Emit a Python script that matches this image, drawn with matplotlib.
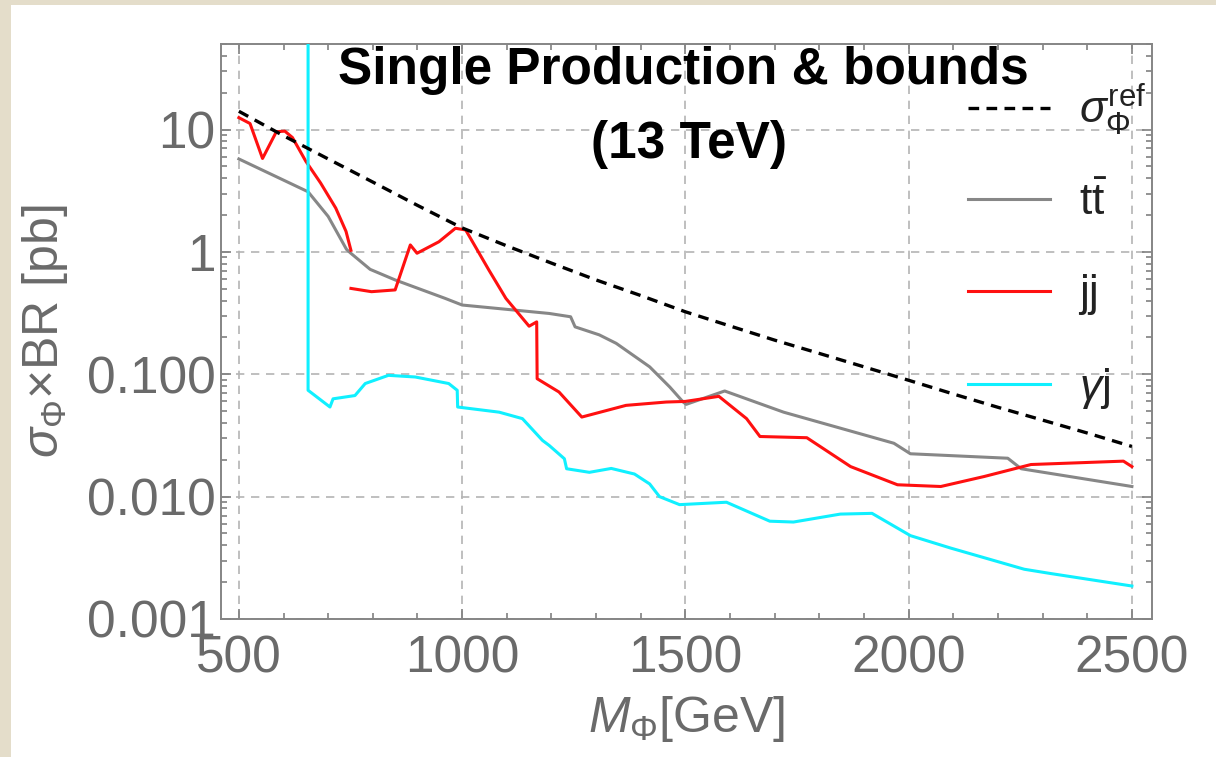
import matplotlib
matplotlib.use("Agg")
import matplotlib.pyplot as plt
from matplotlib.patches import Rectangle
from matplotlib.legend import Legend
from matplotlib.ticker import FixedLocator, FixedFormatter, MultipleLocator, LogLocator, NullFormatter

plt.rcParams['font.family'] = ['Liberation Sans', 'DejaVu Sans']
plt.rcParams['mathtext.fontset'] = 'custom'
plt.rcParams['mathtext.rm'] = 'Liberation Sans'
plt.rcParams['mathtext.it'] = 'Liberation Sans:italic'
plt.rcParams['mathtext.bf'] = 'Liberation Sans:bold'

# ---------------- data ----------------
ref_mass = [500, 600, 700, 800, 900, 1000, 1100, 1200, 1300, 1400, 1500,
            1600, 1700, 1800, 1900, 2000, 2100, 2200, 2300, 2400, 2500]
ref_xsec = [14.1, 8.9, 5.75, 3.72, 2.40, 1.57, 1.12, 0.81, 0.59, 0.44, 0.324,
            0.248, 0.19, 0.148, 0.115, 0.0893, 0.069, 0.0537, 0.0422, 0.0331, 0.0257]

tt_mass = [500, 655, 700, 741, 750, 794, 850, 962, 1000, 1195, 1243, 1253, 1307,
           1345, 1420, 1465, 1495, 1502, 1588, 1720, 1967, 2004, 2222, 2252, 2500]
tt_xsec = [5.75, 3.1, 1.95, 1.05, 0.98, 0.72, 0.59, 0.417, 0.368, 0.314, 0.295, 0.244, 0.21,
           0.179, 0.115, 0.0787, 0.0593, 0.0568, 0.073, 0.049, 0.0273, 0.0224, 0.0206, 0.0169, 0.0121]

jj_mass_a = [500, 525, 553, 584, 603, 620, 650, 683, 717, 740, 751]
jj_xsec_a = [12.5, 11.2, 5.8, 9.6, 9.7, 8.6, 5.5, 3.66, 2.28, 1.47, 1.03]

jj_mass_b = [751, 797, 850, 884, 899, 948, 985, 1008, 1060, 1098, 1150, 1167, 1168,
             1217, 1268, 1367, 1457, 1500, 1575, 1637, 1667, 1772, 1870, 1975, 2072,
             2169, 2274, 2481, 2500]
jj_xsec_b = [0.503, 0.473, 0.489, 1.14, 0.975, 1.21, 1.56, 1.51, 0.71, 0.417, 0.247, 0.268, 0.092,
             0.0716, 0.0447, 0.0557, 0.0593, 0.060, 0.066, 0.0434, 0.031, 0.0303, 0.0176, 0.0125, 0.0121,
             0.0146, 0.0183, 0.0195, 0.0176]

gj_mass = [655, 655, 704, 711, 760, 783, 835, 895, 970, 989, 990, 1083, 1135, 1180, 1195,
           1229, 1234, 1285, 1334, 1386, 1420, 1442, 1487, 1592, 1689, 1742, 1847, 1918,
           2004, 2094, 2259, 2319, 2500]
gj_xsec = [200, 0.074, 0.054, 0.063, 0.067, 0.084, 0.098, 0.095, 0.084, 0.074, 0.054, 0.049,
           0.0434, 0.0288, 0.0262, 0.0204, 0.0169, 0.0158, 0.017, 0.0153, 0.0127, 0.01, 0.0086,
           0.0090, 0.0063, 0.0062, 0.0072, 0.0073, 0.0048, 0.0038, 0.00255, 0.00235, 0.00186]

x_ticks = [500, 1000, 1500, 2000, 2500]
y_ticks = [0.001, 0.01, 0.1, 1, 10]
y_tick_labels = ['0.001', '0.010', '0.100', '1', '10']
legend_labels = [r'$\sigma_{\Phi}^{\mathrm{ref}}$', r'$\mathrm{t}\bar{\mathrm{t}}$', 'jj', r'$\gamma$j']

# ---------------- figure ----------------
W, H = 1216, 757
fig = plt.figure(figsize=(W / 100, H / 100), dpi=100)
fig.patch.set_facecolor('#e4ddca')
fig.add_artist(Rectangle((11 / W, 0), 1, 1 - 5 / H, transform=fig.transFigure,
                         facecolor='white', edgecolor='none', zorder=-10))

ax = fig.add_axes([221 / W, 1 - 619 / H, (1152 - 221) / W, (619 - 44) / H])
ax.set_yscale('log')
ax.set_xlim(460, 2545)
ax.set_ylim(0.001, 50)

GRAY = '#878787'
RED = '#ff1010'
CYAN = '#10f0ff'
h_ref, = ax.plot(ref_mass, ref_xsec, color='black', lw=2.4, ls=(0, (3.2, 2.2)), zorder=5)
h_tt, = ax.plot(tt_mass, tt_xsec, color=GRAY, lw=2.2, zorder=3)
h_jj, = ax.plot(jj_mass_a, jj_xsec_a, color=RED, lw=2.2, zorder=4)
ax.plot(jj_mass_b, jj_xsec_b, color=RED, lw=2.2, zorder=4)
h_gj, = ax.plot(gj_mass, gj_xsec, color=CYAN, lw=2.2, zorder=4)

# grid
for xv in x_ticks:
    ax.axvline(xv, color='#b4b4b4', lw=1.2, ls=(0, (5, 4)), zorder=1)
for yv in y_ticks:
    ax.axhline(yv, color='#b4b4b4', lw=1.2, ls=(0, (5, 4)), zorder=1)

# ticks
ax.xaxis.set_major_locator(FixedLocator(x_ticks))
ax.xaxis.set_minor_locator(MultipleLocator(100))
ax.yaxis.set_major_locator(FixedLocator(y_ticks))
ax.yaxis.set_major_formatter(FixedFormatter(y_tick_labels))
ax.yaxis.set_minor_locator(LogLocator(base=10, subs=range(2, 10), numticks=20))
ax.yaxis.set_minor_formatter(NullFormatter())

TICKC = '#6a6a6a'
ax.tick_params(which='both', direction='in', top=True, right=True, color='#808080', width=1.2)
ax.tick_params(which='major', length=7, labelsize=37, labelcolor=TICKC)
ax.tick_params(which='minor', length=4)
ax.tick_params(axis='x', which='major', pad=11)
ax.tick_params(axis='y', which='major', pad=4)
for s in ax.spines.values():
    s.set_color('#858585')
    s.set_linewidth(1.4)

ax.set_xlabel(r'$M_{\Phi}$[GeV]', fontsize=36, color=TICKC, labelpad=8)
ax.set_ylabel(r'$\sigma_{\Phi}$$\times$BR [pb]', fontsize=36, color=TICKC, labelpad=12)

# title
ax.text(0.497, 0.930, 'Single Production & bounds', transform=ax.transAxes,
        ha='center', va='baseline', fontsize=37, fontweight='bold', color='black', zorder=6)
ax.text(0.503, 0.802, '(13 TeV)', transform=ax.transAxes,
        ha='center', va='baseline', fontsize=37, fontweight='bold', color='black', zorder=6)

# legend: one entry per row, rows placed like the reference
handles = [h_ref, h_tt, h_jj, h_gj]
row_y = [0.885, 0.7235, 0.5635, 0.4017]
for h, lab, yy in zip(handles, legend_labels, row_y):
    lg = Legend(ax, [h], [lab], loc='center left', bbox_to_anchor=(0.802, yy),
                bbox_transform=ax.transAxes, frameon=False, fontsize=32,
                handlelength=1.85, handletextpad=0.65, borderpad=0, borderaxespad=0)
    for t in lg.get_texts():
        t.set_color('#222222')
    ax.add_artist(lg)

fig.savefig('out.png', dpi=100, facecolor=fig.get_facecolor())
